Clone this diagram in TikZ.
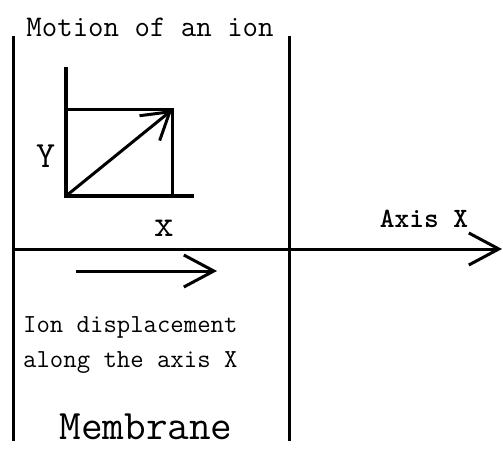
\documentclass[tikz,border=0pt]{standalone}
\usetikzlibrary{arrows.meta}
\tikzset{
  wall/.style={line width=3pt},
  axisline/.style={line width=4pt},
  thinline/.style={line width=3pt},
  barb/.style={-{Straight Barb[length=30pt,width=32pt,line width=3pt]}},
  smallbarb/.style={-{Straight Barb[length=26pt,width=32pt,line width=3pt]}},
  lbl/.style={inner sep=0pt, anchor=base, font=\ttfamily}
}
\begin{document}
\begin{tikzpicture}[x=1pt, y=-1pt]
	\useasboundingbox (0,0) rectangle (503,449);
	% 1. 膜的两侧边界
	\coordinate (L1) at (13,36);
	\coordinate (L2) at (13,441);
	\coordinate (R1) at (289,36);
	\coordinate (R2) at (289,441);
	% 轴 X
	\coordinate (X0) at (13,249);
	\coordinate (X1) at (502,249);
	% 位移箭头
	\coordinate (D0) at (76,271);
	\coordinate (D1) at (217,271);
	% 小坐标系
	\coordinate (O) at (66,196);
	\coordinate (Oy) at (66,67);
	\coordinate (Ox) at (194,196);
	\coordinate (P) at (172,110);
	\coordinate (Py) at (66,110);
	\coordinate (Px) at (172,196);

	% 2. 线段
	\draw[wall] (L1) -- (L2);
	\draw[wall] (R1) -- (R2);
	\draw[wall, barb] (X0) -- (X1);
	\draw[wall, barb] (D0) -- (D1);
	\draw[axisline] (Oy) -- (O) -- (Ox);
	\draw[thinline] (Py) -- (P) -- (Px);
	\draw[wall, smallbarb] (O) -- (P);

	% 3. 标注
	\node[lbl] (title) at (150,37) {\fontsize{30}{33}\selectfont Motion of an ion};
	\node[lbl] (ylbl) at (46,168) {\fontsize{37}{40}\selectfont Y};
	\node[lbl] (xlbl) at (164,236) {\fontsize{38}{41}\selectfont x};
	\node[lbl] (axis) at (424,227) {\fontsize{28}{31}\selectfont\bfseries Axis X};
	\node[lbl, anchor=base west] (disp1) at (23,332) {\fontsize{26}{29}\selectfont Ion displacement};
	\node[lbl, anchor=base west] (disp2) at (23,367) {\fontsize{26}{29}\selectfont along the axis X};
	\node[lbl] (memb) at (146,439) {\fontsize{42}{46}\selectfont Membrane};
\end{tikzpicture}
\end{document}
